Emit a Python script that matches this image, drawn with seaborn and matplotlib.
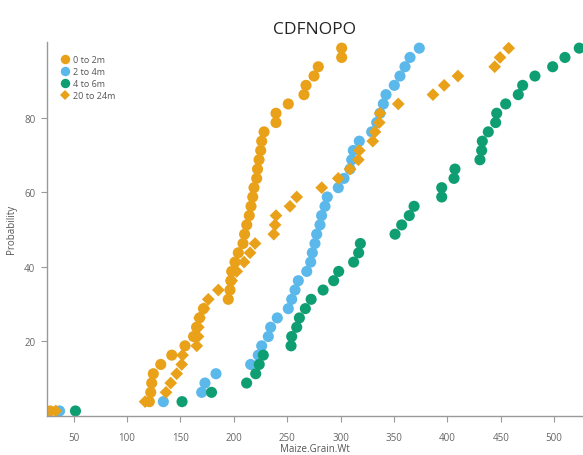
import matplotlib
matplotlib.use("Agg")
import matplotlib.pyplot as plt
import pandas as pd
import seaborn as sns

# plotting positions of the 40 ranked samples in each group (%)
probability = [1.25, 3.75, 6.25, 8.75, 11.25, 13.75, 16.25, 18.75, 21.25, 23.75,
               26.25, 28.75, 31.25, 33.75, 36.25, 38.75, 41.25, 43.75, 46.25, 48.75,
               51.25, 53.75, 56.25, 58.75, 61.25, 63.75, 66.25, 68.75, 71.25, 73.75,
               76.25, 78.75, 81.25, 83.75, 86.25, 88.75, 91.25, 93.75, 96.25, 98.75]

wt_0_2m = [28.1, 120.9, 122.2, 123.1, 124.6, 131.6, 141.9, 154.3, 162.3, 165.1,
           167.9, 171.6, 194.8, 196.4, 197.2, 198.0, 201.1, 204.2, 208.6, 210.1,
           212.1, 214.5, 216.1, 217.7, 218.9, 221.4, 222.2, 223.6, 225.2, 226.1,
           228.3, 239.5, 239.5, 251.0, 265.7, 267.6, 275.1, 279.1, 301.0, 301.0]

wt_2_4m = [36.8, 134.0, 169.9, 173.0, 183.3, 215.8, 222.9, 226.1, 232.3, 234.5,
           240.7, 251.0, 254.2, 257.3, 260.4, 268.3, 272.0, 273.5, 276.0, 277.6,
           280.7, 282.2, 285.4, 287.5, 297.8, 303.2, 308.8, 310.4, 311.9, 317.5,
           329.1, 333.8, 336.9, 340.0, 342.5, 350.3, 355.6, 360.3, 365.0, 373.7]

wt_4_6m = [51.7, 151.5, 179.1, 212.0, 220.5, 223.8, 227.6, 253.6, 254.2, 258.9,
           261.4, 267.0, 272.4, 283.6, 293.5, 298.2, 312.2, 316.9, 318.5, 351.0,
           357.2, 364.3, 368.8, 394.7, 394.7, 406.2, 407.1, 430.5, 432.1, 432.7,
           438.3, 445.2, 446.2, 454.6, 466.4, 470.5, 482.0, 498.6, 510.1, 523.5]

wt_20_24m = [33.3, 116.9, 136.5, 140.9, 146.5, 151.2, 152.0, 165.3, 166.5, 166.8,
             167.9, 172.1, 176.1, 185.5, 198.0, 202.7, 209.6, 215.2, 219.9, 237.4,
             238.6, 239.5, 252.6, 258.9, 282.3, 297.8, 308.8, 316.6, 317.5, 330.1,
             332.2, 336.2, 336.9, 354.0, 386.5, 397.0, 409.9, 444.3, 449.3, 457.4]

groups = ["0 to 2m", "2 to 4m", "4 to 6m", "20 to 24m"]
colors = ["#E9A11A", "#5AB8EA", "#0F9E72", "#E9A11A"]
shapes = ["o", "o", "o", "D"]
marker_sizes = [64, 64, 64, 42]
x_ticks = [50, 100, 150, 200, 250, 300, 350, 400, 450, 500]
y_ticks = [20, 40, 60, 80]

df = pd.concat([
    pd.DataFrame({"Maize.Grain.Wt": vals, "Probability": probability, "Depth": g})
    for g, vals in zip(groups, [wt_0_2m, wt_2_4m, wt_4_6m, wt_20_24m])
], ignore_index=True)

sns.set_style("ticks")
plt.rcParams["font.family"] = ["Open Sans", "DejaVu Sans"]

fig = plt.figure(figsize=(5.83, 4.56), dpi=100)
ax = fig.add_axes([0.0798, 0.0864, 0.9202, 0.8193])

sns.scatterplot(
    data=df, x="Maize.Grain.Wt", y="Probability",
    hue="Depth", style="Depth", size="Depth",
    hue_order=groups, style_order=groups, size_order=groups,
    palette=dict(zip(groups, colors)), markers=dict(zip(groups, shapes)),
    sizes=dict(zip(groups, marker_sizes)), linewidth=0, ax=ax,
)

ax.set_xlim(24.6, 527)
ax.set_ylim(0, 100.4)
ax.set_xticks(x_ticks)
ax.set_yticks(y_ticks)

for side in ["top", "right"]:
    ax.spines[side].set_visible(False)
for side in ["left", "bottom"]:
    ax.spines[side].set_color("#9a9a9a")
    ax.spines[side].set_linewidth(1)
ax.tick_params(axis="both", colors="#9a9a9a", labelcolor="#666666", labelsize=7, width=0.8)
ax.tick_params(axis="x", length=4, pad=8)
ax.tick_params(axis="y", length=4, pad=4)

ax.set_xlabel("Maize.Grain.Wt", fontsize=7, color="#555555", labelpad=0)
ax.set_ylabel("Probability", fontsize=7, color="#555555", labelpad=5)

handles, labels = ax.get_legend_handles_labels()
ax.legend(handles, labels, loc="upper left", bbox_to_anchor=(60 / 583, 1 - 56 / 456),
          bbox_transform=fig.transFigure, frameon=False, fontsize=6.5,
          borderpad=0, borderaxespad=0, handlelength=1, handletextpad=0.4,
          labelspacing=0.32, labelcolor="#555555", markerscale=0.85)

fig.text(315 / 583, 1 - 30 / 456, "CDFNOPO", ha="center", va="center",
         fontsize=12.5, color="#252423")

fig.savefig("out.png", dpi=100)
